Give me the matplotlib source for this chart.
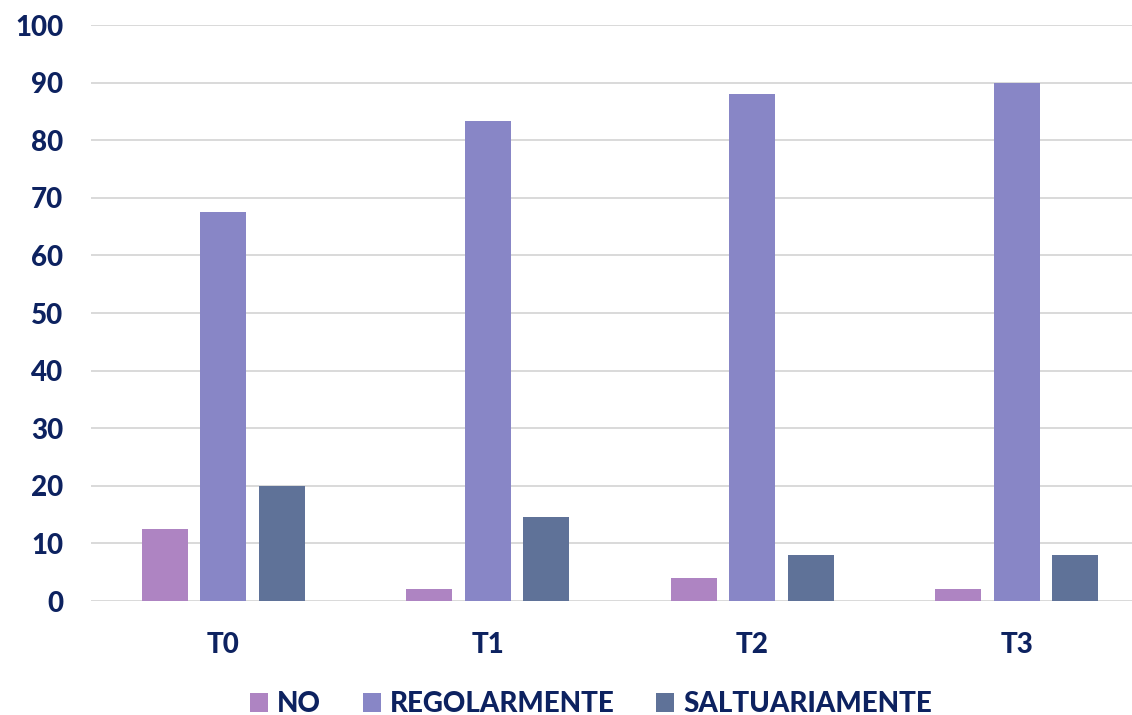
import matplotlib
matplotlib.use("Agg")
import matplotlib.pyplot as plt
import numpy as np
from matplotlib.patches import Patch

categories = ["T0", "T1", "T2", "T3"]
series_names = ["NO", "REGOLARMENTE", "SALTUARIAMENTE"]
no_vals = [12.5, 2, 4, 2]
regolarmente_vals = [67.5, 83.3, 88, 90]
saltuariamente_vals = [20, 14.6, 8, 8]
yticks = [0, 10, 20, 30, 40, 50, 60, 70, 80, 90, 100]

colors = ["#AE84C2", "#8886C6", "#5F7298"]
text_color = "#0D2260"
plt.rcParams['font.family'] = ['Lato', 'DejaVu Sans']
FW = 900
FS = 20

fig = plt.figure(figsize=(11.32, 7.15), dpi=100)
ax = fig.add_axes([91/1132, 114/715, 1 - 91/1132, (601-25)/715])

x = np.arange(len(categories))
w = 0.174
step = 0.221
for i, (vals, c) in enumerate(zip([no_vals, regolarmente_vals, saltuariamente_vals], colors)):
    ax.bar(x + (i - 1) * step, vals, width=w, color=c, zorder=3)

ax.set_xlim(-0.5, 3.436)
ax.set_ylim(0, 100)
ax.set_yticks(yticks)
ax.set_xticks(x)
ax.set_xticklabels(categories)
ax.yaxis.grid(True, color="#D9D9D9", linewidth=1.4, zorder=0)
ax.set_axisbelow(True)
for s in ax.spines.values():
    s.set_visible(False)
ax.tick_params(axis='both', length=0, labelsize=FS, labelcolor=text_color)
ax.tick_params(axis='y', pad=20)
ax.tick_params(axis='x', pad=22)
for lab in ax.get_xticklabels() + ax.get_yticklabels():
    lab.set_fontweight(FW)

handles = [Patch(facecolor=c, edgecolor='none') for c in colors]
leg = fig.legend(handles, series_names, loc='center', bbox_to_anchor=(591/1132, 1 - 704/715),
                 ncol=3, frameon=False, handlelength=0.65, handleheight=0.65,
                 columnspacing=1.5, handletextpad=0.32,
                 prop={'size': FS, 'weight': FW})
for t in leg.get_texts():
    t.set_color(text_color)

fig.savefig("out.png", dpi=100)
